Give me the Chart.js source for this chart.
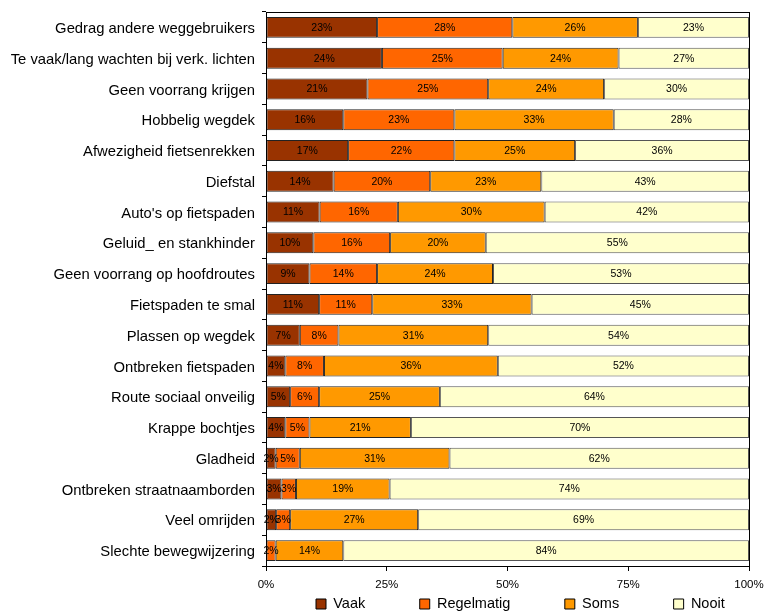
<!DOCTYPE html>
<html>
<head>
<meta charset="utf-8">
<script src="https://cdn.jsdelivr.net/npm/chart.js@4/dist/chart.umd.min.js"></script>
<style>
  html, body { margin: 0; padding: 0; background: #fff; }
  #wrap { width: 764px; height: 612px; }
</style>
</head>
<body>
<div id="wrap"><canvas id="chart" width="764" height="612"></canvas></div>
<script>
// Data (percentages; labels show the rounded value)
const categories = [
  'Gedrag andere weggebruikers',
  'Te vaak/lang wachten bij verk. lichten',
  'Geen voorrang krijgen',
  'Hobbelig wegdek',
  'Afwezigheid fietsenrekken',
  'Diefstal',
  "Auto's op fietspaden",
  'Geluid_ en stankhinder',
  'Geen voorrang op hoofdroutes',
  'Fietspaden te smal',
  'Plassen op wegdek',
  'Ontbreken fietspaden',
  'Route sociaal onveilig',
  'Krappe bochtjes',
  'Gladheid',
  'Ontbreken straatnaamborden',
  'Veel omrijden',
  'Slechte bewegwijzering'
];
const vaak       = [23, 24, 21, 16, 17, 14, 11.1,  9.8,  9, 11,  7,  4,  5,  4,  2,  3.2,  2.1,  0];
const regelmatig = [28, 25, 25, 23, 22, 20, 16.2, 15.9, 14, 11,  8,  8,  6,  5,  5,  3.0,  2.9,  2];
const soms       = [26, 24, 24, 33, 25, 23, 30.4, 19.8, 24, 33, 31, 36, 25, 21, 31, 19.4, 26.5, 14];
const nooit      = [23, 27, 30, 28, 36, 43, 42.3, 54.5, 53, 45, 54, 52, 64, 70, 62, 74.4, 68.5, 84];
const xTicks = [0, 25, 50, 75, 100];

const FONT = '"Liberation Sans", Arial, sans-serif';
const LEGEND_PAD = 54.5;   // horizontal gap between legend items
const LEGEND_H = 22;       // space kept for the legend under the axis
const LEGEND_Y = 604;      // middle of the legend row
const LEGEND_X = 316;      // left edge of the first legend box

// Percentages inside the segments
const segmentLabels = {
  id: 'segmentLabels',
  afterDatasetsDraw(chart) {
    const { ctx } = chart;
    ctx.save();
    ctx.font = '10.5px ' + FONT;
    ctx.fillStyle = '#000';
    ctx.textAlign = 'center';
    ctx.textBaseline = 'middle';
    chart.data.datasets.forEach((ds, i) => {
      chart.getDatasetMeta(i).data.forEach((bar, j) => {
        const v = ds.data[j];
        if (!v) return;
        ctx.fillText(Math.round(v) + '%', (bar.x + bar.base) / 2, bar.y + 0.5);
      });
    });
    ctx.restore();
  }
};

// box round the plot area
const plotBorder = {
  id: 'plotBorder',
  afterDraw(chart) {
    const { ctx, chartArea: a } = chart;
    ctx.save();
    ctx.strokeStyle = '#000';
    ctx.lineWidth = 1;
    ctx.strokeRect(Math.round(a.left) + 0.5, Math.round(a.top) + 0.5,
      Math.round(a.right - a.left), Math.round(a.bottom - a.top));
    ctx.restore();
  }
};

// legend padding is used for both gaps and height: keep the wide gaps, drop the tall box
const legendFit = {
  id: 'legendFit',
  beforeLayout(chart) {
    const lg = chart.legend;
    if (lg && !lg._fitPatched) {
      const fit = lg.fit;
      lg.fit = function () { fit.call(this); this.height = LEGEND_H; };
      lg._fitPatched = true;
    }
  },
  afterLayout(chart) {
    const lg = chart.legend;
    if (!lg) return;
    const size = lg.options.labels.font.size;
    lg.top = LEGEND_Y - LEGEND_PAD - size / 2;
    const start = (lg.left + LEGEND_PAD + lg.right - lg.lineWidths[0]) / 2;
    lg.left += LEGEND_X - start;
    lg.right += LEGEND_X - start;
  }
};

function series(label, data, color, border) {
  return {
    label, data,
    backgroundColor: color,
    borderColor: border,
    borderWidth: 1,
    borderSkipped: false,
    categoryPercentage: 1,
    barPercentage: 0.68
  };
}

new Chart(document.getElementById('chart'), {
  type: 'bar',
  data: {
    labels: categories,
    datasets: [
      series('Vaak', vaak, '#993300', '#222'),
      series('Regelmatig', regelmatig, '#FF6600', '#222'),
      series('Soms', soms, '#FF9900', '#222'),
      series('Nooit', nooit, '#FFFFCC', '#555')
    ]
  },
  options: {
    indexAxis: 'y',
    responsive: false,
    animation: false,
    layout: { padding: { left: 0, right: 15, top: 12, bottom: 0 } },
    plugins: {
      tooltip: { enabled: false },
      legend: {
        position: 'bottom',
        labels: {
          font: { family: FONT, size: 14.5 },
          color: '#000',
          boxWidth: 10,
          boxHeight: 10,
          padding: LEGEND_PAD,
          generateLabels(chart) {
            return chart.data.datasets.map((ds, i) => ({
              text: ds.label,
              fillStyle: ds.backgroundColor,
              strokeStyle: '#000',
              lineWidth: 1,
              datasetIndex: i
            }));
          }
        }
      }
    },
    scales: {
      x: {
        stacked: true,
        min: 0,
        max: 100,
        afterBuildTicks(scale) {
          scale.ticks = xTicks.map(v => ({ value: v }));
        },
        afterFit(scale) {
          scale.height = 24;
          scale.paddingLeft = 0;
          scale.paddingRight = 0;
        },
        ticks: {
          callback: v => v + '%',
          font: { family: FONT, size: 11.5 },
          color: '#000',
          padding: 7,
          maxRotation: 0
        },
        grid: { drawOnChartArea: false, drawTicks: true, tickLength: 5, color: '#000' },
        border: { color: '#000' }
      },
      y: {
        stacked: true,
        afterFit(scale) {
          scale.width = 266;
          scale.paddingTop = 0;
          scale.paddingBottom = 0;
        },
        ticks: {
          font: { family: FONT, size: 14.8 },
          color: '#000',
          padding: 7,
          labelOffset: 1.5,
          autoSkip: false
        },
        grid: { drawOnChartArea: false, drawTicks: true, tickLength: 4, offset: true, color: '#000' },
        border: { color: '#000' }
      }
    }
  },
  plugins: [segmentLabels, plotBorder, legendFit]
});
</script>
</body>
</html>
